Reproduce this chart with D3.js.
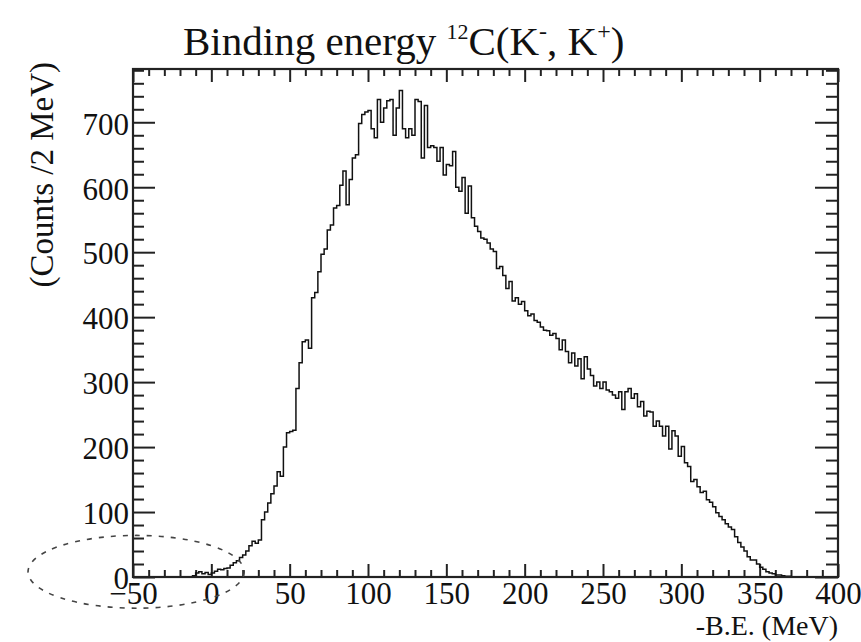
<!DOCTYPE html>
<html>
<head>
<meta charset="utf-8">
<script src="https://cdn.jsdelivr.net/npm/d3@7"></script>
<style>
  html, body { margin: 0; padding: 0; background: #fff; }
  svg { display: block; }
  text { font-family: "Liberation Serif", "Times New Roman", serif; fill: #111; }
</style>
</head>
<body>
<svg id="chart" width="861" height="642"></svg>
<script>
// Histogram: counts per 2 MeV bin, first bin starts at -50 MeV
const binWidth = 2;
const binStart = -50;
const counts = [
  /* -50 */ 0, 0, 0, 0, 0, 0, 0, 0, 0, 0,
  /* -30 */ 0, 0, 0, 0, 0, 0, 0, 0, 0, 2,
  /* -10 */ 6, 8, 5, 7, 4, 6, 9, 12, 11, 13,
  /*  10 */ 14, 18, 22, 25, 30, 34, 40, 48, 55, 52,
  /*  30 */ 57, 88, 100, 114, 128, 140, 162, 155, 200, 222,
  /*  50 */ 224, 226, 290, 330, 362, 365, 352, 430, 438, 470,
  /*  70 */ 497, 505, 534, 542, 568, 572, 603, 625, 573, 612,
  /*  90 */ 645, 650, 698, 712, 716, 718, 690, 676, 735, 700,
  /* 110 */ 722, 733, 735, 680, 722, 749, 690, 676, 690, 680,
  /* 130 */ 735, 732, 645, 726, 661, 664, 661, 640, 661, 619,
  /* 150 */ 635, 633, 655, 600, 594, 615, 560, 602, 553, 540,
  /* 170 */ 532, 522, 520, 514, 505, 501, 475, 478, 464, 444,
  /* 190 */ 455, 425, 430, 420, 424, 410, 402, 405, 395, 392,
  /* 210 */ 385, 380, 379, 372, 375, 367, 350, 365, 347, 330,
  /* 230 */ 345, 325, 336, 305, 339, 320, 310, 294, 300, 290,
  /* 250 */ 300, 288, 285, 280, 275, 285, 258, 285, 290, 275,
  /* 270 */ 282, 262, 270, 248, 255, 254, 232, 240, 232, 217,
  /* 290 */ 232, 197, 225, 217, 186, 201, 176, 170, 147, 150,
  /* 310 */ 139, 130, 132, 119, 115, 108, 99, 93, 88, 82,
  /* 330 */ 77, 73, 62, 53, 46, 40, 31, 26, 26, 20,
  /* 350 */ 15, 12, 8, 6, 5, 3, 3, 2, 1, 1,
  /* 370 */ 0, 0, 0, 0, 0, 0, 0, 0, 0, 0,
  /* 390 */ 0, 0, 0, 0, 0
];

const xDomain = [-50, 400];
const yDomain = [0, 782];
const xMajorTicks = [-50, 0, 50, 100, 150, 200, 250, 300, 350, 400];
const yMajorTicks = [0, 100, 200, 300, 400, 500, 600, 700];
const xMinorStep = 10;
const yMinorStep = 20;

const titleMain = "Binding energy ";
const titleIsotope = "12";
const titleRest = ["C(K", "-", ", K", "+", ")"];
const xTitle = "-B.E. (MeV)";
const yTitle = "(Counts /2 MeV)";

const svg = d3.select("#chart");
const frame = { left: 133, right: 838, top: 69, bottom: 577 };

const x = d3.scaleLinear().domain(xDomain).range([frame.left, frame.right]);
const y = d3.scaleLinear().domain(yDomain).range([frame.bottom, frame.top]);

const xMinor = d3.range(xDomain[0], xDomain[1] + 0.001, xMinorStep).filter(v => !xMajorTicks.includes(v));
const yMinor = d3.range(yDomain[0], yDomain[1], yMinorStep).filter(v => !yMajorTicks.includes(v));

function styleAxis(g) {
  g.select(".domain").remove();
  g.selectAll(".tick line").attr("stroke", "#222").attr("stroke-width", 2);
}

// Bottom axis (ticks point inward)
svg.append("g").attr("transform", `translate(0,${frame.bottom})`)
  .call(d3.axisBottom(x).tickValues(xMajorTicks).tickSize(-13).tickPadding(5).tickFormat(d3.format("d")))
  .call(styleAxis)
  .call(g => g.selectAll("text").attr("font-size", 31).attr("fill", "#111")
    .attr("font-family", "Liberation Serif"));
svg.append("g").attr("transform", `translate(0,${frame.bottom})`)
  .call(d3.axisBottom(x).tickValues(xMinor).tickSize(-7).tickFormat(""))
  .call(styleAxis);

// Top axis
svg.append("g").attr("transform", `translate(0,${frame.top})`)
  .call(d3.axisTop(x).tickValues(xMajorTicks).tickSize(-13).tickFormat(""))
  .call(styleAxis);
svg.append("g").attr("transform", `translate(0,${frame.top})`)
  .call(d3.axisTop(x).tickValues(xMinor).tickSize(-7).tickFormat(""))
  .call(styleAxis);

// Left axis
svg.append("g").attr("transform", `translate(${frame.left},0)`)
  .call(d3.axisLeft(y).tickValues(yMajorTicks).tickSize(-22).tickPadding(4).tickFormat(d3.format("d")))
  .call(styleAxis)
  .call(g => g.selectAll("text").attr("font-size", 31).attr("fill", "#111")
    .attr("font-family", "Liberation Serif").attr("dy", "0.38em"));
svg.append("g").attr("transform", `translate(${frame.left},0)`)
  .call(d3.axisLeft(y).tickValues(yMinor).tickSize(-11).tickFormat(""))
  .call(styleAxis);

// Right axis
svg.append("g").attr("transform", `translate(${frame.right},0)`)
  .call(d3.axisRight(y).tickValues(yMajorTicks).tickSize(-23).tickFormat(""))
  .call(styleAxis);
svg.append("g").attr("transform", `translate(${frame.right},0)`)
  .call(d3.axisRight(y).tickValues(yMinor).tickSize(-12).tickFormat(""))
  .call(styleAxis);

// Histogram as a step outline
const edges = counts.map((c, i) => [binStart + i * binWidth, c]);
edges.push([binStart + counts.length * binWidth, counts[counts.length - 1]]);
const line = d3.line()
  .x(d => x(d[0]))
  .y(d => y(d[1]))
  .curve(d3.curveStepAfter);
svg.append("path")
  .datum(edges)
  .attr("d", line)
  .attr("fill", "none")
  .attr("stroke", "#111")
  .attr("stroke-width", 1.5);

// Frame
svg.append("rect")
  .attr("x", frame.left).attr("y", frame.top)
  .attr("width", frame.right - frame.left).attr("height", frame.bottom - frame.top)
  .attr("fill", "none").attr("stroke", "#222").attr("stroke-width", 2.2);

// Dashed ellipse around the region below threshold
svg.append("ellipse")
  .attr("cx", x(-48)).attr("cy", y(8))
  .attr("rx", x(19) - x(-50)).attr("ry", y(0) - y(56))
  .attr("fill", "none")
  .attr("stroke", "#444")
  .attr("stroke-width", 1.6)
  .attr("stroke-dasharray", "5,7");

// Title
const title = svg.append("text").attr("x", 183).attr("y", 55).attr("font-size", 41);
title.append("tspan").text(titleMain);
title.append("tspan").attr("font-size", 22).attr("dy", -16).text(titleIsotope);
title.append("tspan").attr("dy", 16).text(titleRest[0]);
title.append("tspan").attr("font-size", 24).attr("dy", -16).text(titleRest[1]);
title.append("tspan").attr("dy", 16).text(titleRest[2]);
title.append("tspan").attr("font-size", 24).attr("dy", -16).text(titleRest[3]);
title.append("tspan").attr("dy", 16).text(titleRest[4]);

// Axis titles
svg.append("text")
  .attr("x", frame.right).attr("y", 635)
  .attr("text-anchor", "end").attr("font-size", 28)
  .text(xTitle);
svg.append("text")
  .attr("transform", `translate(53,62) rotate(-90)`)
  .attr("text-anchor", "end").attr("font-size", 33)
  .text(yTitle);
</script>
</body>
</html>
